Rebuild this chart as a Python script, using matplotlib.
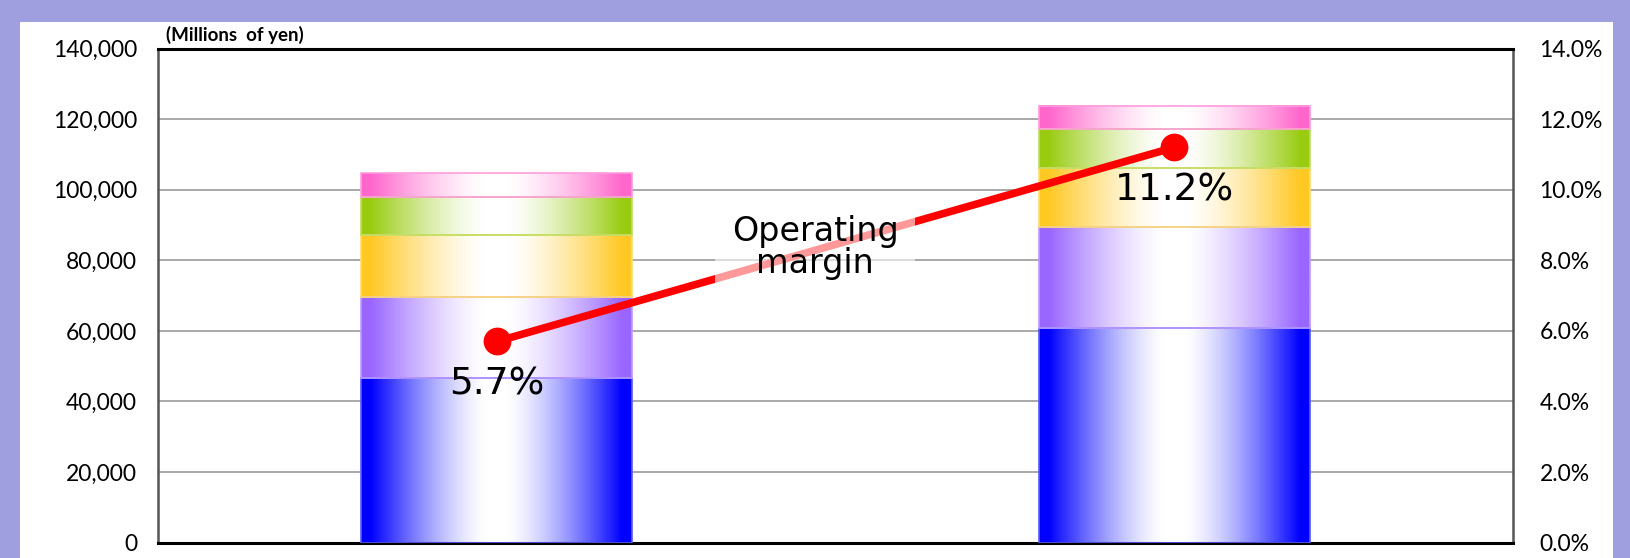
import numpy as np
import matplotlib.pyplot as plt
from matplotlib.patches import Rectangle
from matplotlib.colors import to_rgb

##========== Data ==========##
categories = ['Year 1', 'Year 2']
seg_blue = [46700, 60900]
seg_purple = [22800, 28500]
seg_orange = [17700, 16800]
seg_green = [10800, 10900]
seg_pink = [6700, 6700]
margin = [5.7, 11.2]  # operating margin, %

seg_colors = ['#0000FF', '#9966FF', '#FFC823', '#99CC11', '#FF66CC']
left_ticks = np.arange(0, 140001, 20000)
right_ticks = np.arange(0, 14.01, 2)

##========== Figure ==========##
fig = plt.figure(figsize=(16.3, 5.58), dpi=100)
fig.patch.set_facecolor('#9F9FDF')
fig.patches.append(Rectangle((20/1630, 0), (1613-20)/1630, 536/558,
                             transform=fig.transFigure, facecolor='white',
                             edgecolor='none', zorder=-1))

ax = fig.add_axes([158/1630, 15.4/558, 1355/1630, 494/558])
ax.set_facecolor('white')
x = np.arange(len(categories))
width = 0.4

def gradient(color, n=256):
    # horizontal gradient: solid color at both edges, white in the middle
    u = np.abs(np.linspace(-1, 1, n))
    t = np.clip((u - 0.08) / 0.85, 0, 1) ** 1.4
    c = np.array(to_rgb(color))
    row = 1 - (1 - c)[None, :] * t[:, None]
    return row[None, :, :]

def lighten(color, f=0.35):
    c = np.array(to_rgb(color))
    return tuple(c + (1 - c) * f)

bottom = np.zeros(len(categories))
for vals, col in zip([seg_blue, seg_purple, seg_orange, seg_green, seg_pink], seg_colors):
    bars = ax.bar(x, vals, width, bottom=bottom, color='none',
                  edgecolor=lighten(col), linewidth=1.2, zorder=3)
    for r in bars:
        ax.imshow(gradient(col), extent=(r.get_x(), r.get_x() + r.get_width(),
                                         r.get_y(), r.get_y() + r.get_height()),
                  aspect='auto', interpolation='bilinear', zorder=2)
    bottom += np.array(vals)

ax.set_xlim(-0.5, 1.5)
ax.set_ylim(0, 140000)
ax.set_yticks(left_ticks)
ax.set_yticklabels([f'{v:,}' for v in left_ticks], fontfamily='Lato', fontsize=16.5)
ax.set_xticks([])
ax.tick_params(axis='y', length=0, pad=15)
ax.grid(axis='y', color='#999999', linewidth=1.2, zorder=1)
ax.set_axisbelow(True)
for s in ['top', 'bottom']:
    ax.spines[s].set_color('black')
    ax.spines[s].set_linewidth(2.2)
for s in ['left', 'right']:
    ax.spines[s].set_color('#555555')
    ax.spines[s].set_linewidth(1.8)

ax.text(0.006, 1.01, '(Millions  of yen)', transform=ax.transAxes,
        fontfamily='Lato', fontweight='bold', fontsize=13.5, ha='left', va='bottom')

##========== Operating margin ==========##
ax2 = ax.twinx()
ax2.set_ylim(0, 14)
ax2.set_yticks(right_ticks)
ax2.set_yticklabels([f'{v:.1f}%' for v in right_ticks], fontfamily='Lato', fontsize=16.5)
ax2.tick_params(axis='y', length=0, pad=19)
for s in ax2.spines.values():
    s.set_visible(False)

ax2.plot(x, margin, color='red', linewidth=5.5, marker='o', markersize=19,
         solid_capstyle='round', zorder=4)
for xi, m in zip(x, margin):
    ax2.annotate(f'{m}%', (xi, m), xytext=(0, -31), textcoords='offset points',
                 ha='center', va='center', fontsize=27, zorder=6)

ax2.text(0.47, 8.36, 'Operating\nmargin', ha='center', va='center', fontsize=24,
         linespacing=0.95, zorder=5,
         bbox=dict(boxstyle='square,pad=0.5', facecolor='white', alpha=0.6,
                   edgecolor='none'))

fig.savefig('out.png', dpi=100, facecolor=fig.get_facecolor())
